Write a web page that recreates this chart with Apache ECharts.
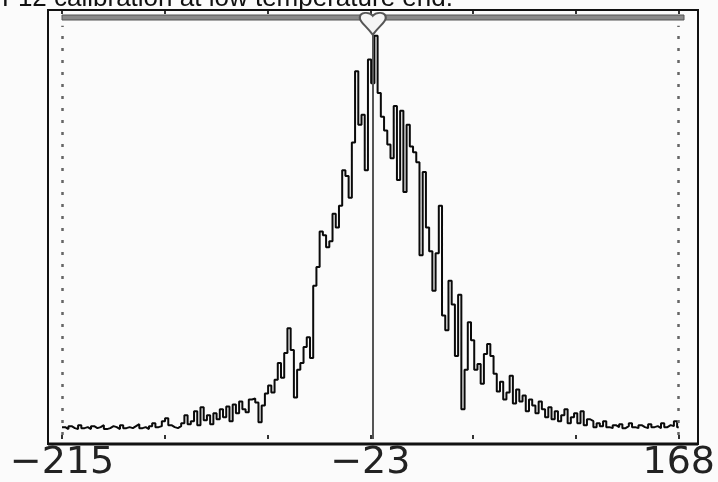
<!DOCTYPE html>
<html>
<head>
<meta charset="utf-8">
<script src="https://cdn.jsdelivr.net/npm/echarts@6/dist/echarts.min.js"></script>
<style>
html,body{margin:0;padding:0;background:#fbfbfb;}
#c{width:718px;height:482px;}
</style>
</head>
<body>
<div id="c"></div>
<script>
// ---- data ----
const titleText = 'F12 calibration at low temperature end.';
const binStart = -215;
const binWidth = 2;
const axisMin = -215;
const axisMax = 168;
const markerX = -22;
const tickLabels = ['\u2212215', '', '', '\u221223', '', '', '168'];
const counts = [
  12,10,13,11,10,14,11,12,10,13,
  11,12,14,10,11,13,12,10,14,11,
  12,11,13,15,11,12,10,13,16,12,
  13,18,21,14,12,11,13,16,24,15,
  18,28,14,32,19,24,15,26,20,30,
  22,33,18,35,26,38,30,27,40,41,
  37,17,34,46,54,47,60,77,62,87,
  112,90,42,70,77,93,103,82,155,174,
  210,206,194,200,228,214,236,272,266,244,
  300,372,318,328,272,384,360,408,350,326,
  312,298,284,337,262,332,250,318,296,290,
  280,186,270,214,190,150,188,236,125,110,
  160,136,84,146,30,70,118,100,70,76,
  56,86,96,84,66,48,58,40,47,64,
  36,50,38,44,28,40,34,26,38,30,
  22,32,20,28,18,24,30,16,22,26,
  16,28,14,20,18,12,16,13,18,12,
  11,14,12,15,11,13,16,12,11,14,
  12,11,15,12,13,11,16,12,14,13,18,12
];

const lineData = counts.map((c, i) => [binStart + i * binWidth, c]);
lineData.push([axisMax, counts[counts.length - 1]]);

const chart = echarts.init(document.getElementById('c'), null, {renderer: 'canvas'});
const option = {
  backgroundColor: '#fbfbfb',
  animation: false,
  grid: {left: 62, right: 34, top: 10, bottom: 38},
  xAxis: [
    {type: 'value', min: axisMin, max: axisMax, show: false},
    {type: 'value', min: 0, max: 6, interval: 1, position: 'bottom',
     axisLine: {show: false}, splitLine: {show: false},
     axisTick: {show: true, inside: true, length: 4, lineStyle: {color: '#333', width: 2}},
     axisLabel: {show: true, margin: 5, fontFamily: 'DejaVu Sans', fontSize: 38, color: '#222',
       formatter: (v) => tickLabels[Math.round(v)] || ''}},
    {type: 'value', min: 0, max: 6, interval: 1, position: 'top',
     axisLine: {show: false}, splitLine: {show: false},
     axisTick: {show: true, inside: true, length: 4, lineStyle: {color: '#333', width: 2}},
     axisLabel: {show: false}}
  ],
  yAxis: [{type: 'value', min: 0, max: 434, show: false}],
  graphic: [
    {type: 'text', left: 2, top: -14, z: 20,
     style: {text: titleText, font: '26px "Liberation Sans", Arial, sans-serif', fill: '#111'}},
    {type: 'rect', z: 20, shape: {x: 48, y: 10, width: 650, height: 434},
     style: {fill: null, stroke: '#111', lineWidth: 2}},
    {type: 'line', z: 20, shape: {x1: 48, y1: 444, x2: 698, y2: 444},
     style: {stroke: '#111', lineWidth: 3}},
    {type: 'rect', z: 5, shape: {x: 62, y: 15, width: 622, height: 5},
     style: {fill: '#8a8a8a', stroke: '#555', lineWidth: 1}}
  ],
  series: [{
    type: 'line',
    xAxisIndex: 0, yAxisIndex: 0,
    data: lineData,
    step: 'end',
    showSymbol: false,
    symbol: 'none',
    lineStyle: {color: '#0a0a0a', width: 2},
    z: 3,
    markLine: {
      silent: true, symbol: 'none', animation: false,
      label: {show: false},
      data: [
        [{coord: [axisMin, 4], lineStyle: {color: '#666', width: 2.5, type: [3, 9]}}, {coord: [axisMin, 418]}],
        [{coord: [axisMax, 4], lineStyle: {color: '#666', width: 2.5, type: [3, 9]}}, {coord: [axisMax, 418]}],
        [{coord: [markerX, 0], lineStyle: {color: '#555', width: 2, type: 'solid'}}, {coord: [markerX, 409]}]
      ]
    },
    markPoint: {
      silent: true, animation: false,
      data: [{coord: [markerX, 420],
        symbol: 'path://M13,4 C10,0 2,0 2,6 C2,10 8,14 13,22 C18,14 24,10 24,6 C24,0 16,0 13,4 Z',
        symbolSize: [26, 22],
        itemStyle: {color: '#f4f4f4', borderColor: '#555', borderWidth: 2},
        label: {show: false}}]
    }
  }]
};
chart.setOption(option);
</script>
</body>
</html>
